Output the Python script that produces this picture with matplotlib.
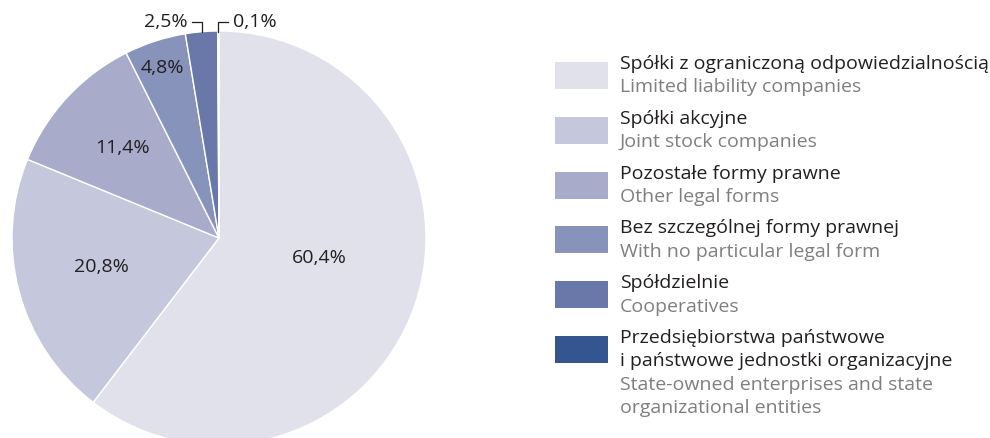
import matplotlib
matplotlib.use('Agg')
import matplotlib.pyplot as plt
from matplotlib.patches import Rectangle

plt.rcParams['font.family'] = ['Open Sans', 'DejaVu Sans']

SHARES     = [60.4, 20.8, 11.4, 4.8, 2.5, 0.1]
LABELS     = ['60,4%', '20,8%', '11,4%', '4,8%', '2,5%', '0,1%']
COLORS     = ['#e1e1ec', '#c5c7dd', '#a8abca', '#8893bb', '#6a78a9', '#34558f']
NAMES_PL   = ['Spółki z ograniczoną odpowiedzialnością',
              'Spółki akcyjne',
              'Pozostałe formy prawne',
              'Bez szczególnej formy prawnej',
              'Spółdzielnie',
              'Przedsiębiorstwa państwowe\ni państwowe jednostki organizacyjne']
NAMES_EN   = ['Limited liability companies',
              'Joint stock companies',
              'Other legal forms',
              'With no particular legal form',
              'Cooperatives',
              'State-owned enterprises and state\norganizational entities']

W, H = 990, 439
DARK = '#231f20'
GREY = '#7f7f7f'
FS = 14

fig = plt.figure(figsize=(W / 100, H / 100), dpi=100)

# pie axes placed in pixels: centre (219, 239), radius 207
cx, cy, r = 219, 239, 207
ax = fig.add_axes([(cx - r) / W, (H - cy - r) / H, 2 * r / W, 2 * r / H])
wedges, _ = ax.pie(SHARES, colors=COLORS, startangle=90, counterclock=False,
                   radius=1, wedgeprops=dict(edgecolor='white', linewidth=1))
ax.set_xlim(-1, 1)
ax.set_ylim(-1, 1)
ax.axis('off')

# inside labels
inside = [(0.483, -0.092), (-0.570, -0.135), (-0.464, 0.44), (-0.275, 0.826)]
for (x, y), lab in zip(inside, LABELS[:4]):
    ax.text(x, y, lab, ha='center', va='center', fontsize=FS, color=DARK)

# outside labels with leader lines
ax.plot([-0.130, -0.082, -0.082], [1.043, 1.043, 0.995], color=DARK,
        lw=0.9, clip_on=False)
ax.text(-0.150, 1.048, LABELS[4], ha='right', va='center', fontsize=FS, color=DARK)
ax.plot([-0.003, -0.003, 0.043], [0.995, 1.043, 1.043], color=DARK,
        lw=0.9, clip_on=False)
ax.text(0.066, 1.048, LABELS[5], ha='left', va='center', fontsize=FS, color=DARK)

# legend
px, pw, ph = 555, 53, 27
top0, step = 63, 54.8
lh = 23.5
for i, (col, pl, en) in enumerate(zip(COLORS, NAMES_PL, NAMES_EN)):
    top = top0 + step * i
    fig.add_artist(Rectangle((px / W, 1 - (top + ph) / H), pw / W, ph / H,
                             transform=fig.transFigure, color=col, lw=0))
    k = 0
    for line in pl.split('\n'):
        fig.text(620 / W, 1 - (top + 1 + lh * k) / H, line, ha='left',
                 va='center', fontsize=FS, color=DARK)
        k += 1
    for line in en.split('\n'):
        fig.text(620 / W, 1 - (top + 1 + lh * k) / H, line, ha='left',
                 va='center', fontsize=FS, color=GREY)
        k += 1

fig.savefig('out.png', dpi=100)
